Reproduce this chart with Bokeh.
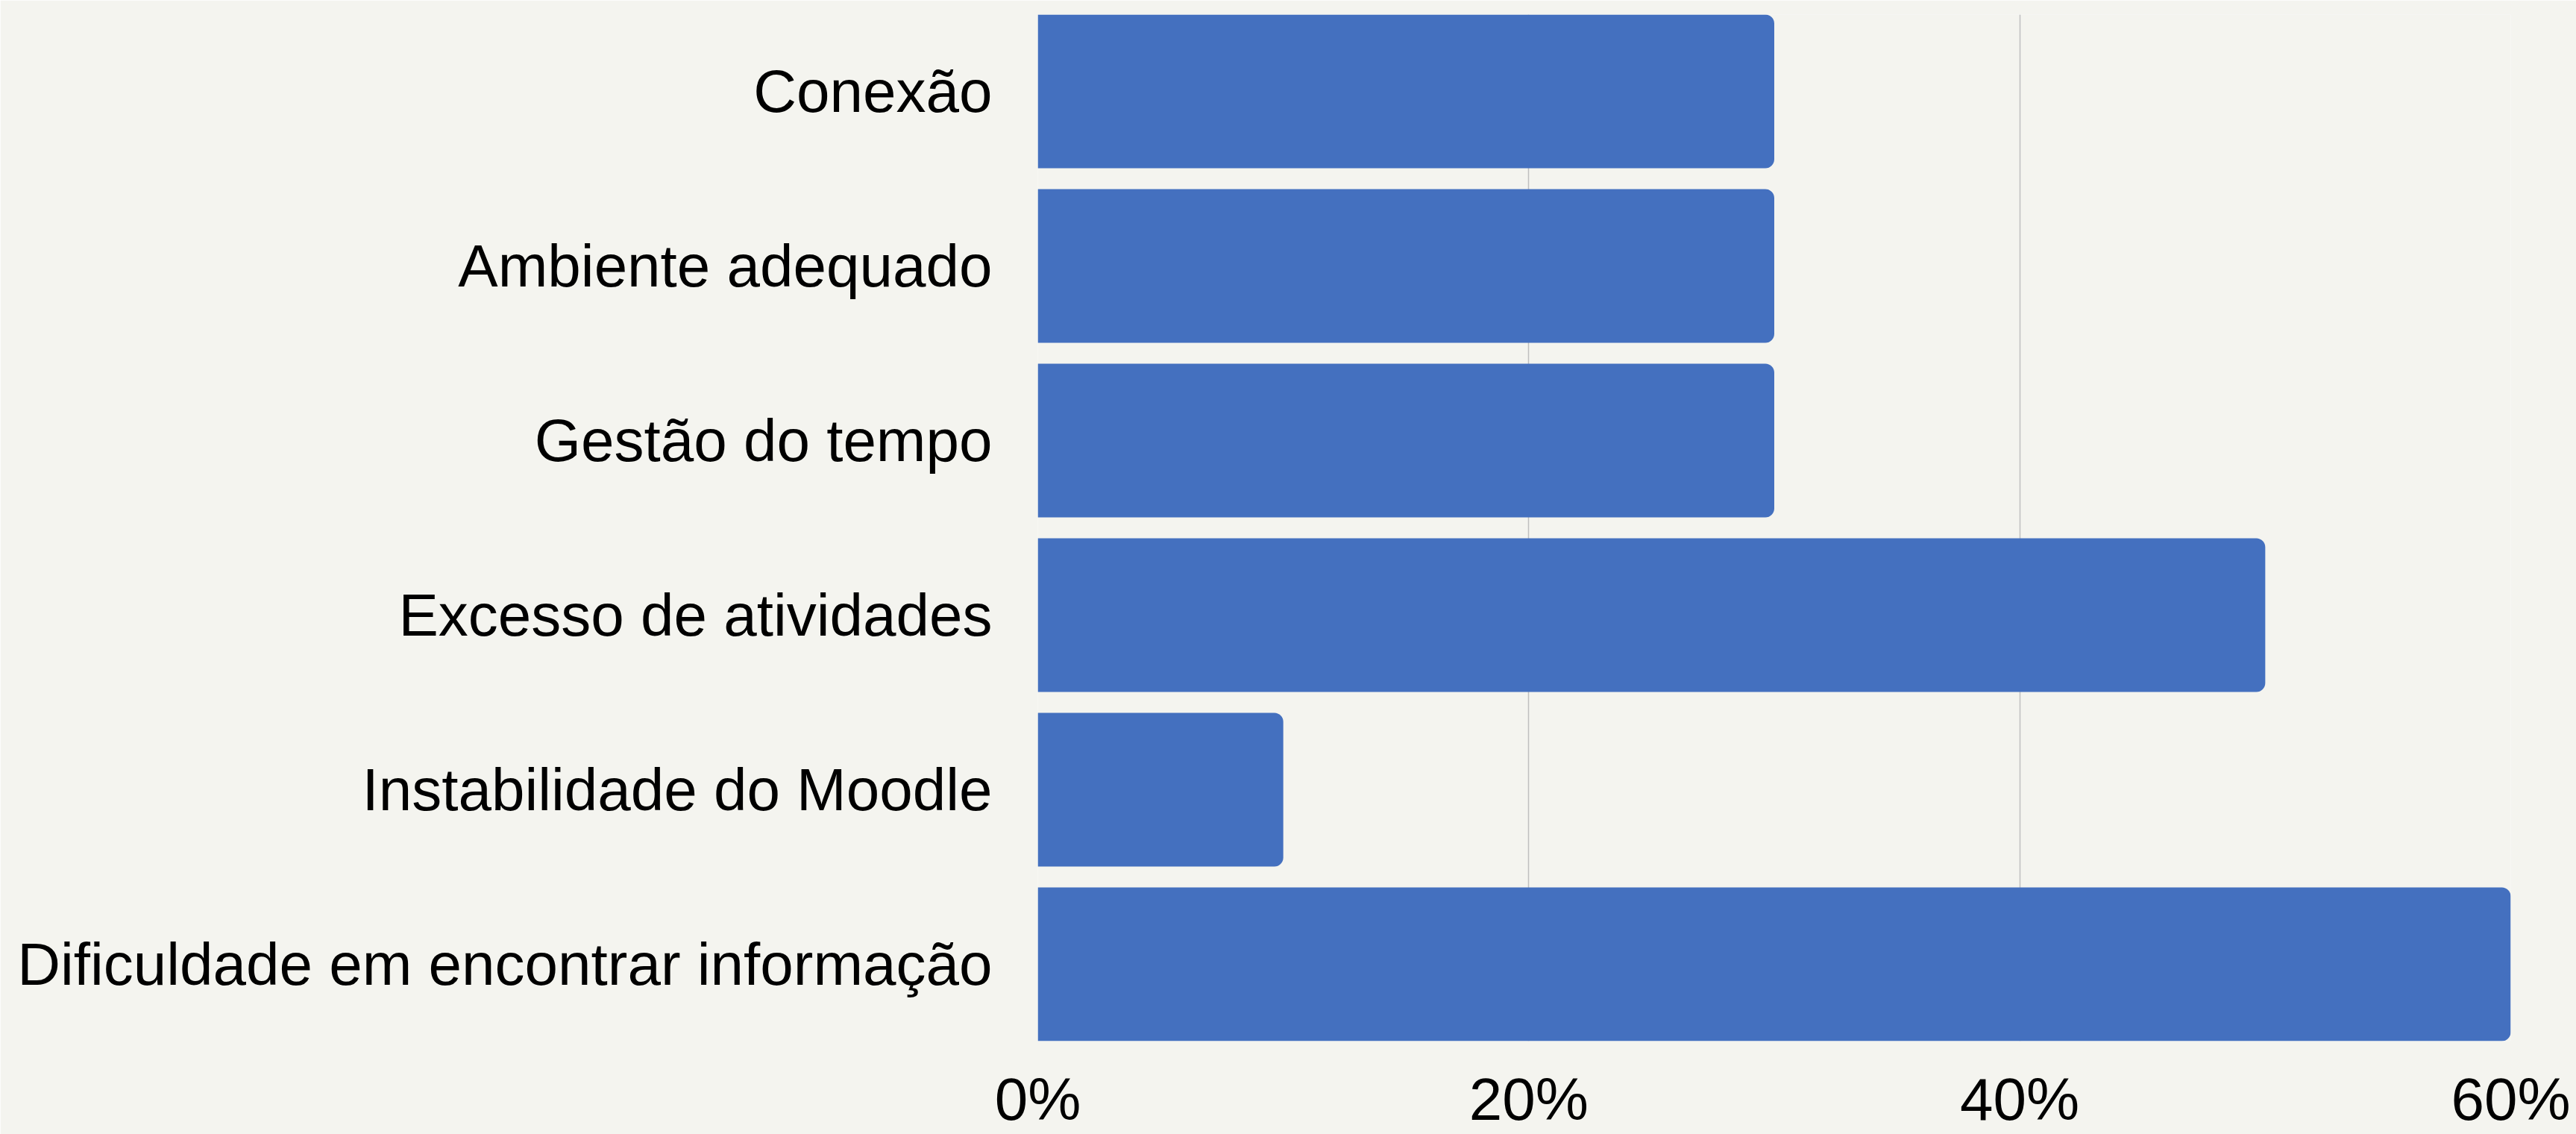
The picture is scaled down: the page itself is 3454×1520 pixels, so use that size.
from bokeh.plotting import figure
from bokeh.models import Range1d, FixedTicker
from bokeh.embed import file_html
from bokeh.resources import INLINE

# Data (bottom to top)
categories = [
    "Dificuldade em encontrar informação",
    "Instabilidade do Moodle",
    "Excesso de atividades",
    "Gestão do tempo",
    "Ambiente adequado",
    "Conexão",
]
values = [0.60, 0.10, 0.50, 0.30, 0.30, 0.30]
x_ticks = [0, 0.2, 0.4, 0.6]
x_tick_labels = ["0%", "20%", "40%", "60%"]

BG = "#f4f4ef"
BAR = "#4470bf"
FONT = "Liberation Sans"
BAR_H = 0.88

W, H = 3454, 1520
p = figure(width=W, height=H, output_backend="svg", toolbar_location=None,
           x_range=Range1d(0, 0.6), y_range=Range1d(-BAR_H / 2, len(categories) - 1 + BAR_H / 2),
           min_border_left=1391, min_border_right=88, min_border_top=19, min_border_bottom=110)
p.background_fill_color = BG
p.border_fill_color = BG
p.outline_line_color = None

ypos = list(range(len(categories)))
p.hbar(y=ypos, right=values, left=0, height=BAR_H, fill_color=BAR, line_color=None,
       border_radius=(0, 12, 12, 0))

p.xaxis.ticker = FixedTicker(ticks=x_ticks)
p.xaxis.major_label_overrides = {t: l for t, l in zip(x_ticks, x_tick_labels)}
p.yaxis.ticker = FixedTicker(ticks=ypos)
p.yaxis.major_label_overrides = {i: c for i, c in zip(ypos, categories)}

for ax in (p.xaxis, p.yaxis):
    ax.axis_line_color = None
    ax.major_tick_line_color = None
    ax.minor_tick_line_color = None
    ax.major_label_text_font = FONT
    ax.major_label_text_font_size = "80px"
    ax.major_label_text_color = "#000000"
p.xaxis.major_label_standoff = 27
p.yaxis.major_label_standoff = 55

p.ygrid.grid_line_color = None
p.xgrid.grid_line_color = "#bfbfbf"
p.xgrid.grid_line_width = 1.5
p.xgrid.ticker = FixedTicker(ticks=x_ticks)

open("out.html", "w").write(file_html(p, INLINE))
